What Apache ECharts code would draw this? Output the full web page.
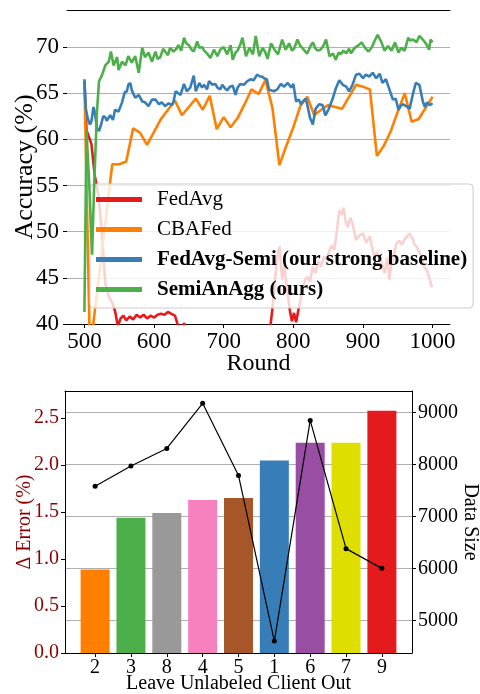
<!DOCTYPE html>
<html>
<head>
<meta charset="utf-8">
<script src="https://cdn.jsdelivr.net/npm/echarts@6/dist/echarts.min.js"></script>
<style>html,body{margin:0;padding:0;background:#fff}#c{width:480px;height:694px}</style>
</head>
<body>
<div id="c"></div>
<script>
// ---------- Top chart data ----------
const seriesNames = ['FedAvg', 'CBAFed', 'FedAvg-Semi (our strong baseline)', 'SemiAnAgg (ours)'];
const fedavgRounds = [500,503,510,515,520,525,530,535,540,544,548,552,556,560,565,570,575,580,585,590,595,600,605,610,615,620,625,630,635,640,643,646,650,660,670,680,690,700,710,720,730,740,750,760,766,770,774,777,780,784,787,791,795,798,801,804,807,810,813,817,820,824,828,832,836,840,844,848,852,855,859,862,866,869,872,875,878,882,885,888,890,895,900,905,910,913,916,920,923,926,929,931,935,938,941,944,948,952,956,960,964,967,971,974,977,981,984,988,992,996,999];
const fedavgAcc = [66.3,61.0,59.5,56.0,54.0,50.0,44.4,43.0,42.3,41.4,39.8,40.6,40.9,40.4,40.8,40.5,41.0,40.7,41.0,40.6,40.9,40.7,41.0,41.1,41.0,41.3,41.1,40.9,39.7,39.2,40.1,39.5,38.5,37.8,38.2,37.5,38.0,37.6,38.3,37.9,38.5,38.0,38.4,38.1,39.0,41.7,45.0,47.3,48.4,44.8,46.3,43.8,41.5,40.3,41.2,40.2,41.4,42.5,43.7,44.8,45.1,44.6,46.2,45.5,46.8,46.2,47.3,46.9,48.0,48.5,48.0,49.8,52.3,51.8,52.6,51.2,50.5,51.5,50.9,49.8,49.1,49.6,49.8,48.8,49.5,48.3,47.3,47.8,47.2,46.9,46.0,45.5,47.2,44.8,46.5,47.3,48.7,49.0,48.6,49.2,49.5,49.8,49.3,48.6,48.4,47.8,47.3,46.2,45.8,44.8,44.0];

const cbafedRounds = [500,508,540,550,560,570,580,590,600,610,620,630,640,650,660,670,680,690,700,710,720,730,740,750,760,770,780,790,800,810,820,830,840,850,860,870,880,890,900,910,920,930,940,950,960,970,980,990,1000];
const cbafedAcc = [66.3,37.0,57.3,57.3,57.6,61.2,60.7,59.4,60.8,62.2,63.2,64.2,62.6,63.5,64.4,63.2,64.7,61.1,62.4,61.3,62.3,63.8,65.4,64.9,66.4,63.4,57.2,59.3,61.3,63.6,64.6,62.6,63.2,63.7,63.5,63.3,64.6,65.9,65.7,65.4,58.2,59.3,60.9,63.0,65.0,61.9,62.2,63.4,64.6];

const semiRounds = [500,502,505,508,510,513,515,518,521,524,527,530,532,537,541,544,549,554,558,561,563,566,568,573,578,583,587,592,597,602,607,611,616,621,626,628,631,633,638,643,647,652,657,660,665,669,672,676,679,684,688,691,695,698,702,705,709,713,717,720,724,729,734,739,743,748,752,755,758,762,765,768,772,777,782,787,792,797,800,802,804,808,811,815,818,821,824,828,832,837,842,846,851,854,857,861,866,871,876,880,885,890,895,900,904,909,914,919,924,928,933,938,943,947,951,954,957,962,967,972,976,981,986,989,992,996,1000];
const semiAcc = [66.5,63.3,62.2,61.6,61.9,63.5,62.9,61.2,60.9,61.6,62.5,62.4,62.0,62.6,62.1,63.2,63.0,64.0,65.1,65.2,65.9,66.1,65.3,64.5,64.8,64.1,64.0,63.6,64.3,64.3,63.8,64.0,63.6,63.9,63.7,64.1,65.2,65.3,64.8,66.0,65.2,65.6,66.9,65.2,66.1,65.6,65.9,65.4,66.3,65.9,66.0,65.6,65.4,65.9,65.5,65.3,65.7,65.8,64.8,65.6,66.0,65.9,66.3,66.5,66.4,67.0,66.8,66.8,66.6,66.5,65.4,65.3,65.2,65.4,66.0,65.7,66.1,65.6,66.0,65.8,64.1,64.3,63.8,64.2,64.4,63.4,62.3,61.6,63.3,63.8,63.7,62.6,63.3,63.9,64.5,65.5,66.4,65.9,65.7,65.2,65.9,67.0,67.1,66.6,67.0,66.8,67.2,66.6,67.1,66.1,66.5,65.4,64.3,64.4,63.2,63.6,63.8,63.6,63.3,65.0,66.1,65.9,64.1,63.5,64.0,63.7,63.9];

const oursRounds = [500,503,507,511,514,518,521,525,530,535,538,542,547,549,554,559,563,568,573,578,583,587,592,597,602,605,609,613,616,620,623,628,632,635,639,643,646,650,654,657,662,665,669,672,676,681,686,691,695,700,705,710,713,717,720,724,727,732,737,742,746,751,756,760,763,768,773,778,784,789,794,798,801,806,810,813,817,820,824,828,832,835,839,843,847,852,857,861,865,868,872,876,880,883,887,890,894,898,903,908,913,917,921,926,931,936,941,946,951,955,960,965,968,972,977,981,986,991,995,997,1000];
const oursAcc = [41.3,61.0,55.0,47.5,55.0,63.0,66.3,66.9,68.0,68.4,69.5,68.0,68.9,67.5,68.4,68.0,69.0,68.3,69.0,67.2,69.9,68.9,69.4,68.4,69.5,68.7,68.9,69.8,69.5,69.1,69.9,69.5,69.8,70.2,69.6,71.0,70.4,70.2,69.7,69.5,70.6,69.9,70.0,69.6,69.3,68.8,69.7,69.0,69.7,70.0,69.2,70.2,68.6,69.4,69.6,70.3,71.0,69.0,69.9,69.2,71.2,69.0,69.9,69.4,68.7,70.4,69.7,69.2,70.8,69.7,70.4,69.6,69.8,70.8,70.1,69.9,69.5,69.3,70.0,70.5,69.8,69.6,69.7,70.1,70.8,69.0,69.3,68.6,69.4,69.2,69.6,69.3,69.8,69.3,69.8,70.0,70.2,70.5,69.9,69.5,70.0,70.7,71.3,70.6,69.6,70.1,69.6,70.5,69.4,69.9,69.6,71.0,70.7,70.8,70.5,71.2,70.8,70.3,69.7,70.8,70.5];

const topXTicks = [500, 600, 700, 800, 900, 1000];
const topYTicks = [40, 45, 50, 55, 60, 65, 70];

// ---------- Bottom chart data ----------
const clients = ['2', '3', '8', '4', '5', '1', '6', '7', '9'];
const deltaError = [0.89, 1.44, 1.49, 1.63, 1.65, 2.05, 2.24, 2.24, 2.58];
const dataSize = [7580, 7970, 8310, 9180, 7790, 4600, 8850, 6380, 6000];
const barColors = ['#ff7f00', '#4daf4a', '#999999', '#f781bf', '#a65628', '#377eb8', '#984ea3', '#dede00', '#e41a1c'];
const errTicks = [0, 0.5, 1.0, 1.5, 2.0, 2.5];
const sizeTicks = [5000, 6000, 7000, 8000, 9000];

const lineColors = ['#e41a1c', '#ff7f00', '#377eb8', '#4daf4a'];
const FONT = "'Liberation Serif', 'Times New Roman', serif";
const zip = (a, b) => a.map((v, i) => [v, b[i]]);
const topSeriesData = [zip(fedavgRounds, fedavgAcc), zip(cbafedRounds, cbafedAcc), zip(semiRounds, semiAcc), zip(oursRounds, oursAcc)];
const plain = v => String(v);

const chart = echarts.init(document.getElementById('c'), null, {renderer: 'canvas'});
const black = '#000';
const option = {
  animation: false,
  backgroundColor: '#fff',
  textStyle: {fontFamily: FONT},
  grid: [
    {left: 67, right: 30, top: 10, height: 314, outerBoundsMode: 'none', containLabel: false},
    {left: 65, right: 68, top: 391, height: 262, outerBoundsMode: 'none', containLabel: false}
  ],
  legend: {
    orient: 'vertical', left: 90, top: 184,
    data: [
      {name: seriesNames[0]}, {name: seriesNames[1]},
      {name: seriesNames[2], textStyle: {fontWeight: 'bold'}},
      {name: seriesNames[3], textStyle: {fontWeight: 'bold'}}
    ],
    icon: 'rect', itemWidth: 46, itemHeight: 5, itemGap: 9,
    textStyle: {fontFamily: FONT, fontSize: 21, color: black, lineHeight: 21, padding: [0, 0, 0, 10]},
    backgroundColor: 'rgba(255,255,255,0.8)', borderColor: '#cccccc', borderWidth: 1, borderRadius: 4,
    padding: [5, 6, 8, 6],
    selectedMode: false
  },
  xAxis: [
    {type: 'value', gridIndex: 0, min: 475, max: 1025, position: 'bottom',
      axisLine: {show: true, onZero: false, lineStyle: {color: black, width: 1}},
      axisTick: {show: true, length: 4, lineStyle: {color: black}, customValues: topXTicks},
      axisLabel: {fontFamily: FONT, fontSize: 23, color: black, margin: 6, customValues: topXTicks, formatter: plain},
      splitLine: {show: false},
      name: 'Round', nameLocation: 'middle', nameGap: 28, nameMoveOverlap: false,
      nameTextStyle: {fontFamily: FONT, fontSize: 24, color: black}},
    {type: 'value', gridIndex: 0, min: 475, max: 1025, position: 'top',
      axisLine: {show: true, onZero: false, lineStyle: {color: black, width: 1}},
      axisTick: {show: false}, axisLabel: {show: false}, splitLine: {show: false}},
    {type: 'value', gridIndex: 1, min: -0.84, max: 8.84, position: 'bottom',
      axisLine: {show: true, onZero: false, lineStyle: {color: black, width: 1}},
      axisTick: {show: true, length: 4, lineStyle: {color: black}, customValues: [0,1,2,3,4,5,6,7,8]},
      axisLabel: {fontFamily: FONT, fontSize: 20, color: black, margin: 5, customValues: [0,1,2,3,4,5,6,7,8],
        formatter: v => clients[Math.round(v)]},
      splitLine: {show: false},
      name: 'Leave Unlabeled Client Out', nameLocation: 'middle', nameGap: 21, nameMoveOverlap: false,
      nameTextStyle: {fontFamily: FONT, fontSize: 20, color: black}},
    {type: 'value', gridIndex: 1, min: -0.84, max: 8.84, position: 'top',
      axisLine: {show: true, onZero: false, lineStyle: {color: black, width: 1}},
      axisTick: {show: false}, axisLabel: {show: false}, splitLine: {show: false}}
  ],
  yAxis: [
    {type: 'value', gridIndex: 0, min: 40, max: 74, position: 'left',
      axisLine: {show: false, onZero: false},
      axisTick: {show: true, length: 4, lineStyle: {color: black}, customValues: topYTicks},
      axisLabel: {fontFamily: FONT, fontSize: 23, color: black, margin: 8, customValues: topYTicks, formatter: plain},
      splitLine: {show: true, lineStyle: {color: '#b0b0b0', width: 1}},
      name: 'Accuracy (%)', nameLocation: 'middle', nameRotate: 90, nameGap: 29, nameMoveOverlap: false,
      nameTextStyle: {fontFamily: FONT, fontSize: 26, color: black}},
    {type: 'value', gridIndex: 1, min: 0, max: 2.79, position: 'left',
      axisLine: {show: true, onZero: false, lineStyle: {color: black, width: 1}},
      axisTick: {show: true, length: 4, lineStyle: {color: black}, customValues: errTicks},
      axisLabel: {fontFamily: FONT, fontSize: 20, color: '#8b0000', margin: 6, customValues: errTicks,
        formatter: v => v.toFixed(1)},
      splitLine: {show: false},
      name: 'Δ Error (%)', nameLocation: 'middle', nameRotate: 90, nameGap: 30, nameMoveOverlap: false,
      nameTextStyle: {fontFamily: FONT, fontSize: 20, color: '#8b0000'}},
    {type: 'value', gridIndex: 1, min: 4370, max: 9416, position: 'right',
      axisLine: {show: true, onZero: false, lineStyle: {color: black, width: 1}},
      axisTick: {show: true, length: 4, lineStyle: {color: black}, customValues: sizeTicks},
      axisLabel: {fontFamily: FONT, fontSize: 20, color: black, margin: 6, customValues: sizeTicks, formatter: plain},
      splitLine: {show: true, lineStyle: {color: '#b0b0b0', width: 1}},
      name: 'Data Size', nameLocation: 'middle', nameRotate: -90, nameGap: 48, nameMoveOverlap: false,
      nameTextStyle: {fontFamily: FONT, fontSize: 20, color: black}}
  ],
  series: [
    ...topSeriesData.map((d, i) => ({
      name: seriesNames[i], type: 'line', xAxisIndex: 0, yAxisIndex: 0, data: d,
      showSymbol: false, symbol: 'none', clip: true,
      lineStyle: {color: lineColors[i], width: 2.6}, itemStyle: {color: lineColors[i]},
      emphasis: {disabled: true}, z: 2 + i
    })),
    {name: 'Δ Error', type: 'bar', xAxisIndex: 2, yAxisIndex: 1, barWidth: 29,
      data: deltaError.map((v, i) => ({value: [i, v], itemStyle: {color: barColors[i]}})),
      emphasis: {disabled: true}},
    {name: 'Data Size', type: 'line', xAxisIndex: 2, yAxisIndex: 2,
      data: dataSize.map((v, i) => [i, v]),
      symbol: 'circle', symbolSize: 5, showSymbol: true,
      lineStyle: {color: black, width: 1.2}, itemStyle: {color: black},
      emphasis: {disabled: true}, z: 10}
  ]
};
chart.setOption(option);
</script>
</body>
</html>
